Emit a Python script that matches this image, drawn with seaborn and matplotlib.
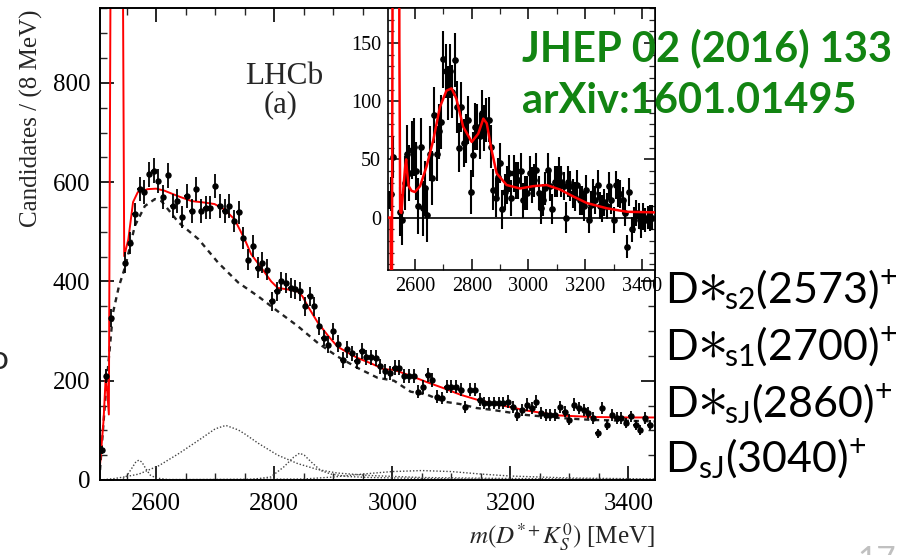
import numpy as np
import seaborn as sns
import matplotlib
matplotlib.use("Agg")
import matplotlib.pyplot as plt
from matplotlib.ticker import MultipleLocator

# ---------------- data: 8 MeV bins of m(D*+ K0S) ----------------
mass = list(range(2508, 3437, 8))

candidates = [
    61, 209, 327, np.nan, np.nan, 438, 478, 535, 586, 580,
    616, 623, 603, 570, 614, 552, 562, 530, 572, 542,
    586, 542, 549, 549, 593, 552, 542, 552, 522, 539,
    488, 444, 471, 428, 438, 424, 360, 380, 400, 397,
    387, 384, 380, 350, 370, 350, 310, 286, 273, 300,
    275, 242, 263, 255, 240, 260, 247, 247, 246, 229,
    219, 216, 226, 226, 209, 209, 209, 178, 187, 212,
    202, 168, 165, 188, 188, 188, 182, 148, 182, 182,
    162, 155, 155, 155, 155, 155, 158, 148, 131, 141,
    152, 145, 158, 135, 131, 131, 131, 148, 138, 121,
    152, 145, 141, 135, 125, 94, 145, 111, 131, 125,
    125, 115, 128, 111, 101, 125, 111,
]

# background-subtracted yields (inset)
subtracted = [
    15, 20, 52, np.nan, np.nan, 5, -2, 30, 55, 38,
    58, 61, 40, 10, 61, 8, 25, 2, 55, 34,
    88, 55, 74, 82, 136, 126, 107, 126, 108, 135,
    95, 60, 95, 64, 68, 84, 22, 54, 78, 78,
    70, 90, 77, 84, 84, 61, 24, 17, 35, 47,
    7, 22, 28, 38, 17, 38, 32, 32, 40, 15,
    21, 21, 38, 28, 32, 41, 21, 8, 15, 25,
    41, 27, 7, 31, 31, 38, 31, 27, 0, 31,
    27, 21, 18, 28, 15, 15, 10, 24, -2, 11,
    21, 15, 28, 10, 8, 13, 10, 27, 15, -2,
    28, 21, 20, 15, 4, -25, 22, -10, -2, 4,
    1, -7, 1, -2, 0, 0, 0,
]

# total fit
fit_mass = [2505, 2511, 2515, 2520, 2526, 2535, 2540, 2546, 2553, 2561,
            2569, 2586, 2600, 2614, 2637, 2660, 2682, 2699, 2716, 2733,
            2750, 2761, 2778, 2795, 2806, 2823, 2840, 2848, 2857, 2874,
            2891, 2907, 2924, 2941, 2964, 2986, 3003, 3031, 3059, 3087,
            3115, 3143, 3171, 3199, 3227, 3255, 3283, 3339, 3396, 3445]
fit_total = [30, 120, 215, 132, 2000, 3000, 2000, 451, 485, 560,
             580, 586, 587, 583, 572, 562, 559, 556, 545, 525,
             485, 455, 428, 400, 387, 384, 380, 370, 350, 317,
             291, 269, 257, 246, 235, 223, 222, 210, 197, 185,
             172, 162, 154, 147, 140, 135, 130, 127, 126, 126]

# combinatorial background
bkg_mass = [2505, 2515, 2527, 2537, 2548, 2564, 2581, 2598, 2609, 2638,
            2672, 2705, 2739, 2773, 2806, 2840, 2874, 2907, 2941, 2975,
            3003, 3031, 3059, 3087, 3115, 3143, 3171, 3199, 3227, 3283,
            3339, 3445]
bkg_val = [20, 180, 337, 390, 431, 512, 552, 566, 562, 519,
           485, 438, 398, 370, 340, 310, 276, 249, 226, 206,
           200, 178, 172, 158, 153, 145, 141, 136, 131, 125,
           121, 118]

# signal components
ds2573_mass = [2505, 2540, 2550, 2558, 2566, 2571, 2576, 2583, 2590, 2600, 2620, 3445]
ds2573_val = [0, 0, 8, 22, 37, 40, 36, 22, 10, 4, 1, 0]
ds2700_mass = [2505, 2530, 2550, 2571, 2605, 2638, 2672, 2700, 2718, 2739,
               2750, 2773, 2806, 2840, 2874, 2907, 2963, 3050, 3200, 3445]
ds2700_val = [0, 3, 7, 12, 29, 53, 80, 103, 110, 101,
              93, 74, 50, 33, 21, 14, 9, 5, 3, 1]
ds2860_mass = [2505, 2760, 2794, 2816, 2833, 2843, 2851, 2863, 2879, 2896,
               2924, 2963, 3050, 3200, 3445]
ds2860_val = [0, 1, 6, 26, 46, 54, 50, 36, 19, 12, 7, 5, 3, 1, 0]
ds3040_mass = [2505, 2850, 2900, 2950, 3000, 3050, 3100, 3150, 3200, 3300, 3445]
ds3040_val = [0, 2, 6, 12, 17, 19, 17, 12, 8, 4, 2]

# total fit minus background (inset)
sub_mass = [2505, 2514, 2518, 2522, 2530, 2540, 2545, 2548, 2552, 2560,
            2566, 2569, 2572, 2578, 2588, 2600, 2618, 2641, 2665, 2688,
            2711, 2729, 2746, 2770, 2800, 2823, 2841, 2853, 2870, 2888,
            2923, 2970, 3017, 3064, 3112, 3159, 3206, 3276, 3347, 3445]
sub_val = [0, 0, -150, 300, 1500, 1500, 150, 5, 4, 28,
           45, 50, 40, 27, 23, 22, 27, 44, 67, 95,
           109, 111, 102, 78, 65, 72, 85, 81, 58, 38,
           28, 25, 27, 28, 24, 18, 12.5, 8, 5, 4.5]

# resonance labels: (excited?, subscript, mass)
particles = [(True, "s2", "2573"), (True, "s1", "2700"),
             (True, "sJ", "2860"), (False, "sJ", "3040")]

# ---------------- style ----------------
sns.set_theme(style="ticks")
plt.rcParams.update({
    "font.family": ["Liberation Serif", "DejaVu Serif"],
    "mathtext.fontset": "custom",
    "mathtext.rm": "Lato",
    "mathtext.it": "Lato:italic",
    "mathtext.bf": "Lato:bold",
    "xtick.direction": "in",
    "ytick.direction": "in",
    "xtick.top": True,
    "ytick.right": True,
    "axes.linewidth": 1.3,
    "axes.edgecolor": "black",
})

W, H = 900, 555
fig = plt.figure(figsize=(W / 100, H / 100), dpi=100)
fig.patch.set_facecolor("white")

# ---------------- main panel ----------------
ax = fig.add_axes([100 / W, 1 - 480 / H, 555 / W, 472 / H])
ax.set_facecolor("white")

dot = (0, (1, 1.4))
for xm, yv in [(ds2573_mass, ds2573_val), (ds2700_mass, ds2700_val),
               (ds2860_mass, ds2860_val), (ds3040_mass, ds3040_val)]:
    sns.lineplot(x=xm, y=yv, ax=ax, color="#444444", linewidth=1.0,
                 linestyle=dot, errorbar=None)
sns.lineplot(x=bkg_mass, y=bkg_val, ax=ax, color="#222222", linewidth=1.7,
             linestyle=(0, (2.2, 2.0)), errorbar=None)
sns.lineplot(x=fit_mass, y=fit_total, ax=ax, color="#ff0000", linewidth=1.4,
             errorbar=None, sort=False)

cand = np.array(candidates, dtype=float)
ax.errorbar(mass, cand, yerr=np.sqrt(cand), xerr=4, fmt="o", color="black",
            ms=3.6, elinewidth=1.3, capsize=0, zorder=4)

ax.set_xlim(2505, 3445)
ax.set_ylim(0, 951)
ax.xaxis.set_major_locator(MultipleLocator(200))
ax.xaxis.set_minor_locator(MultipleLocator(50))
ax.yaxis.set_major_locator(MultipleLocator(200))
ax.yaxis.set_minor_locator(MultipleLocator(50))
ax.tick_params(which="major", length=10, width=1.2, labelsize=18, pad=7,
               colors="black")
ax.tick_params(which="minor", length=5, width=1.0)
ax.tick_params(axis="x", pad=9)
ax.set_xlabel("")
ax.set_ylabel("")
for s in ax.spines.values():
    s.set_linewidth(1.4)

fig.text(284 / W, 1 - 77 / H, "LHCb", ha="center", va="center", fontsize=22.5)
fig.text(281 / W, 1 - 105 / H, "(a)", ha="center", va="center", fontsize=22)

fig.text(31 / W, 1 - 118 / H, "Candidates / (8 MeV)", rotation=90,
         ha="center", va="center", fontsize=18)
fig.text(655 / W, 1 - 537 / H, r"$m(D^{*+}K^0_S)$ [MeV]", ha="right",
         va="center", fontsize=18, math_fontfamily="stix")

# ---------------- inset ----------------
axi = fig.add_axes([388 / W, 1 - 270 / H, 267 / W, 262 / H], zorder=5)
axi.set_facecolor("white")
axi.axhline(0, color="black", linewidth=1.2, zorder=2)
sns.lineplot(x=sub_mass, y=sub_val, ax=axi, color="#ff0000", linewidth=1.8,
             errorbar=None, sort=False, zorder=4)
sub = np.array(subtracted, dtype=float)
axi.errorbar(mass, sub, yerr=np.sqrt(cand), fmt="o", color="black",
             ms=3.8, elinewidth=1.5, capsize=0, zorder=3)
axi.set_xlim(2505, 3446)
axi.set_ylim(-45, 180)
axi.xaxis.set_major_locator(MultipleLocator(200))
axi.xaxis.set_minor_locator(MultipleLocator(100))
axi.yaxis.set_major_locator(MultipleLocator(50))
axi.yaxis.set_minor_locator(MultipleLocator(10))
axi.tick_params(which="major", length=8, width=1.1, labelsize=14.5, pad=5,
                colors="black")
axi.tick_params(which="minor", length=4, width=0.9)
axi.set_xlabel("")
axi.set_ylabel("")
for s in axi.spines.values():
    s.set_linewidth(1.2)

# ---------------- annotations ----------------
green = "#128412"
fig.text(522 / W, 1 - 48 / H, "JHEP 02 (2016) 133", color=green,
         fontsize=30, fontweight="bold", family=["Lato", "DejaVu Sans"],
         ha="left", va="center", zorder=10)
fig.text(522 / W, 1 - 101 / H, "arXiv:1601.01495", color=green,
         fontsize=30, fontweight="bold", family=["Lato", "DejaVu Sans"],
         ha="left", va="center", zorder=10)

renderer = fig.canvas.get_renderer()
sans = ["Lato", "DejaVu Sans"]
fs = 31
for (star, subs, mval), base_y in zip(particles, [303, 360, 417, 472]):
    yb = 1 - base_y / H
    t1 = fig.text(665 / W, yb, "D", fontsize=fs, family=sans, ha="left",
                  va="baseline", color="black", zorder=10)
    x1 = t1.get_window_extent(renderer=renderer).x1 / fig.bbox.width
    if star:
        t2 = fig.text(x1 - 1 / W, 1 - (base_y - 16) / H, r"$\ast$",
                      fontsize=44, math_fontfamily="cm", ha="left",
                      va="center", color="black", zorder=10)
        x1 = t2.get_window_extent(renderer=renderer).x1 / fig.bbox.width - 1 / W
    fig.text(x1, yb, "$_{\\rm " + subs + "}$(" + mval + ")$^{+}$",
             fontsize=fs, family=sans, ha="left", va="baseline",
             color="black", zorder=10)

fig.text(857 / W, 1 - 546 / H, "17", color="#c0c0c0", fontsize=24,
         family=sans, ha="left", va="top")
fig.text(-10 / W, 1 - 360 / H, "o", fontsize=24, family=sans, ha="left",
         va="center")

fig.savefig("out.png", dpi=100, facecolor="white")
